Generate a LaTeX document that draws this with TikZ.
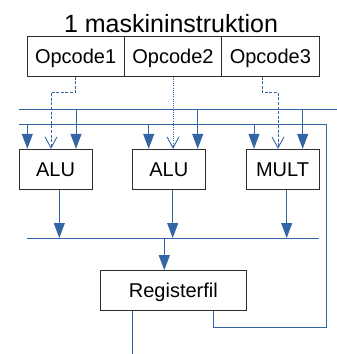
\documentclass[tikz,border=0pt]{standalone}
\usepackage{fontspec}
\setmainfont{Liberation Sans}
\usetikzlibrary{arrows.meta}
\definecolor{wire}{RGB}{52,101,164}
\definecolor{frame}{RGB}{45,45,45}
\begin{document}
\begin{tikzpicture}[x=1pt,y=-1pt,
  box/.style={draw=frame,line width=1pt,minimum height=40pt,inner sep=0pt,
    font=\fontsize{20}{24}\selectfont,text height=14.3pt,text depth=0pt},
  wireline/.style={draw=wire,line width=1pt},
  feed/.style={wireline,-{Triangle[length=15pt,width=11pt]}},
  ctrl/.style={draw=wire,line width=0.9pt,-{Straight Barb[length=11pt,width=12pt]}},
  ctrldash/.style={ctrl,dash pattern=on 3pt off 1.6pt},
  ctrldot/.style={ctrl,dash pattern=on 1pt off 1.2pt}]
\useasboundingbox (0,0) rectangle (337,354);

% instruction word
\node[font=\fontsize{25}{30}\selectfont,anchor=base] (title) at (171,32) {1 maskininstruktion};
\node[box,minimum width=97.3pt] (op1) at (75.65,56) {Opcode1};
\node[box,minimum width=97.4pt] (op2) at (173,56) {Opcode2};
\node[box,minimum width=97.3pt] (op3) at (270.35,56) {Opcode3};

% functional units and register file
\node[box,minimum width=73pt] (alu1) at (55.5,169.3) {ALU};
\node[box,minimum width=73pt] (alu2) at (168.8,169.3) {ALU};
\node[box,minimum width=73pt] (mult) at (282.5,169.3) {MULT};
\node[box,minimum width=146.7pt] (reg) at (173.35,290.7) {Registerfil};

% operand buses
\coordinate (aL) at (19,109);
\coordinate (aR) at (337,109);
\coordinate (bL) at (19,124.3);
\coordinate (bR) at (326.7,124.3);
\coordinate (fb) at (213.3,327.3);
\coordinate (fr) at (326.7,327.3);
\draw[wireline] (aL) -- (aR);
\draw[wireline] (fb |- reg.south) -- (fb) -- (fr) -- (bR) -- (bL);

% operand taps
\coordinate (t1) at (27.3,124.3);
\coordinate (t2) at (76,109);
\coordinate (t3) at (148.7,124.3);
\coordinate (t4) at (197.7,109);
\coordinate (t5) at (254,124.3);
\coordinate (t6) at (302.7,109);
\draw[feed] (t1) -- (t1 |- alu1.north);
\draw[feed] (t2) -- (t2 |- alu1.north);
\draw[feed] (t3) -- (t3 |- alu2.north);
\draw[feed] (t4) -- (t4 |- alu2.north);
\draw[feed] (t5) -- (t5 |- mult.north);
\draw[feed] (t6) -- (t6 |- mult.north);

% opcode control lines
\coordinate (d1) at (51,92.3);
\coordinate (d3) at (278,92.3);
\draw[ctrldash] (op1.south) |- (d1) -- (d1 |- alu1.north);
\draw[ctrldot] (op2.south) -- (op2.south |- alu2.north);
\draw[ctrldash] ([xshift=-8.3pt]op3.south) |- (d3) -- (d3 |- mult.north);

% result bus
\coordinate (cL) at (27.3,238);
\coordinate (cR) at (319,238);
\draw[wireline] (cL) -- (cR);
\draw[feed] ([xshift=3.8pt]alu1.south) -- ([xshift=3.8pt]alu1.south |- cL);
\draw[feed] ([xshift=3.9pt]alu2.south) -- ([xshift=3.9pt]alu2.south |- cL);
\draw[feed] ([xshift=4.2pt]mult.south) -- ([xshift=4.2pt]mult.south |- cL);
\coordinate (w) at (164.3,238);
\draw[feed] (w) -- (w |- reg.north);

% register file output
\coordinate (out) at (132.7,354);
\draw[wireline] (out |- reg.south) -- (out);
\end{tikzpicture}
\end{document}
